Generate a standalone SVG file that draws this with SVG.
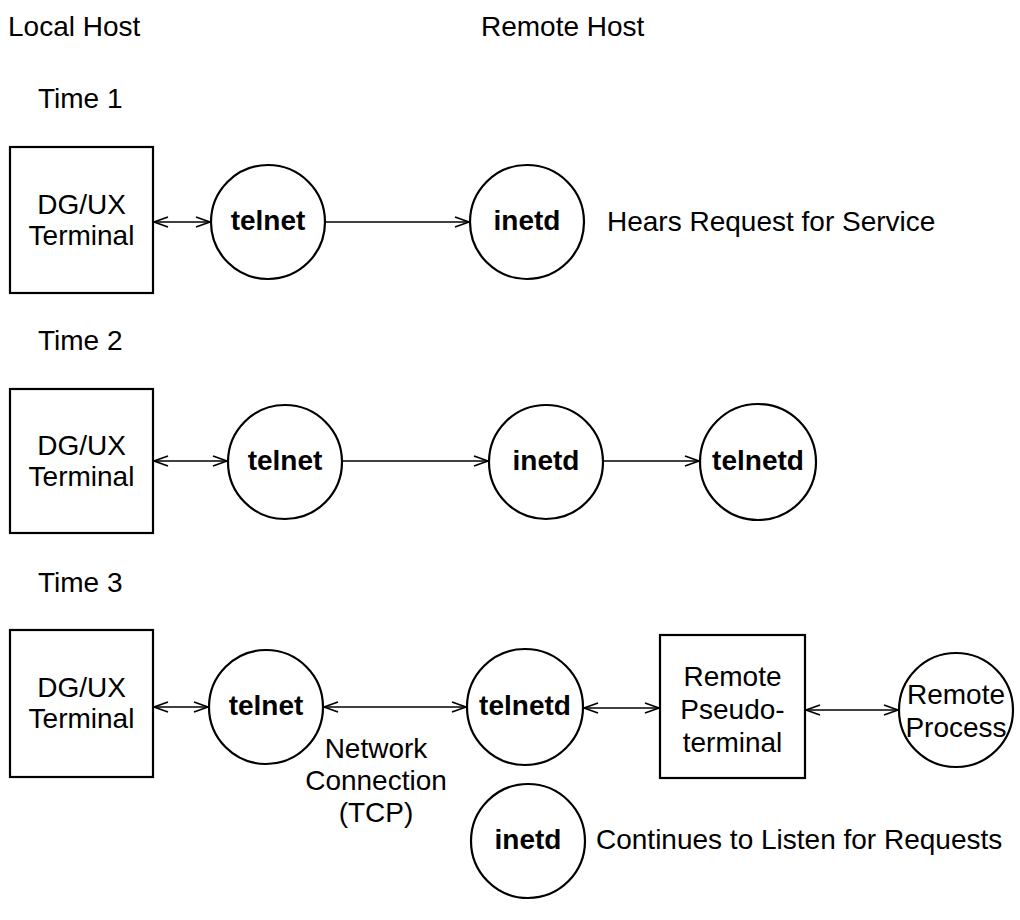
<svg xmlns="http://www.w3.org/2000/svg" width="1020" height="920" viewBox="0 0 1020 920">
  <defs>
    <marker id="open-arrow" viewBox="0 0 16 12" refX="15" refY="6" markerWidth="16" markerHeight="12" markerUnits="userSpaceOnUse" orient="auto-start-reverse">
      <path d="M1,1 L15,6 L1,11" fill="none" stroke="#000" stroke-width="1.8"/>
    </marker>
    <style>
      text { font-family: "Liberation Sans", Arial, sans-serif; font-size: 28px; fill: #000; }
      .c { text-anchor: middle; }
      .b { font-weight: bold; }
      .node rect, .node circle { fill: #fff; stroke: #000; stroke-width: 2.2; }
      .edge { stroke: #000; stroke-width: 1.7; fill: none; marker-end: url(#open-arrow); }
      .both { marker-start: url(#open-arrow); }
    </style>
  </defs>
  <rect width="1020" height="920" fill="#fff"/>

  <!-- headings -->
  <g id="headings">
    <text x="8" y="36">Local Host</text>
    <text x="481" y="36">Remote Host</text>
    <text x="38" y="108">Time 1</text>
    <text x="38" y="350">Time 2</text>
    <text x="38" y="592">Time 3</text>
  </g>

  <!-- connectors -->
  <g id="connectors">
    <line class="edge both" x1="154" y1="222" x2="210" y2="222"/>
    <line class="edge" x1="326" y1="222" x2="469" y2="222"/>

    <line class="edge both" x1="154" y1="461" x2="227" y2="461"/>
    <line class="edge" x1="343" y1="461" x2="488" y2="461"/>
    <line class="edge" x1="604" y1="461" x2="699" y2="461"/>

    <line class="edge both" x1="154" y1="707" x2="208" y2="707"/>
    <line class="edge both" x1="324" y1="707" x2="466" y2="707"/>
    <line class="edge both" x1="584" y1="708" x2="659" y2="708"/>
    <line class="edge both" x1="806" y1="710" x2="898" y2="710"/>
  </g>

  <!-- Time 1 -->
  <g id="t1-terminal" class="node">
    <rect x="10" y="147" width="143" height="146"/>
    <text class="c" x="81.5" y="214">DG/UX</text>
    <text class="c" x="81.5" y="245">Terminal</text>
  </g>
  <g id="t1-telnet" class="node">
    <circle cx="268" cy="222" r="57"/>
    <text class="c b" x="268" y="230">telnet</text>
  </g>
  <g id="t1-inetd" class="node">
    <circle cx="527" cy="222" r="57"/>
    <text class="c b" x="527" y="230">inetd</text>
    <text x="607" y="231">Hears Request for Service</text>
  </g>

  <!-- Time 2 -->
  <g id="t2-terminal" class="node">
    <rect x="10" y="389" width="143" height="144"/>
    <text class="c" x="81.5" y="455">DG/UX</text>
    <text class="c" x="81.5" y="486">Terminal</text>
  </g>
  <g id="t2-telnet" class="node">
    <circle cx="285" cy="462" r="57"/>
    <text class="c b" x="285" y="470">telnet</text>
  </g>
  <g id="t2-inetd" class="node">
    <circle cx="546" cy="462" r="57"/>
    <text class="c b" x="546" y="470">inetd</text>
  </g>
  <g id="t2-telnetd" class="node">
    <circle cx="758" cy="462" r="58"/>
    <text class="c b" x="758" y="470">telnetd</text>
  </g>

  <!-- Time 3 -->
  <g id="t3-terminal" class="node">
    <rect x="10" y="630" width="143" height="147"/>
    <text class="c" x="81.5" y="697">DG/UX</text>
    <text class="c" x="81.5" y="728">Terminal</text>
  </g>
  <g id="t3-telnet" class="node">
    <circle cx="266" cy="707" r="57"/>
    <text class="c b" x="266" y="715">telnet</text>
  </g>
  <g id="t3-network-label">
    <text class="c" x="376" y="758">Network</text>
    <text class="c" x="376" y="790">Connection</text>
    <text class="c" x="376" y="822">(TCP)</text>
  </g>
  <g id="t3-telnetd" class="node">
    <circle cx="525" cy="707" r="58"/>
    <text class="c b" x="525" y="715">telnetd</text>
  </g>
  <g id="t3-pseudo-terminal" class="node">
    <rect x="660" y="635" width="145" height="143"/>
    <text class="c" x="732.5" y="686">Remote</text>
    <text class="c" x="732.5" y="719">Pseudo-</text>
    <text class="c" x="732.5" y="752">terminal</text>
  </g>
  <g id="t3-remote-process" class="node">
    <circle cx="956" cy="710" r="57"/>
    <text class="c" x="956" y="704">Remote</text>
    <text class="c" x="956" y="737">Process</text>
  </g>
  <g id="t3-inetd" class="node">
    <circle cx="528" cy="841" r="57"/>
    <text class="c b" x="528" y="849">inetd</text>
    <text x="596" y="849">Continues to Listen for Requests</text>
  </g>
</svg>
